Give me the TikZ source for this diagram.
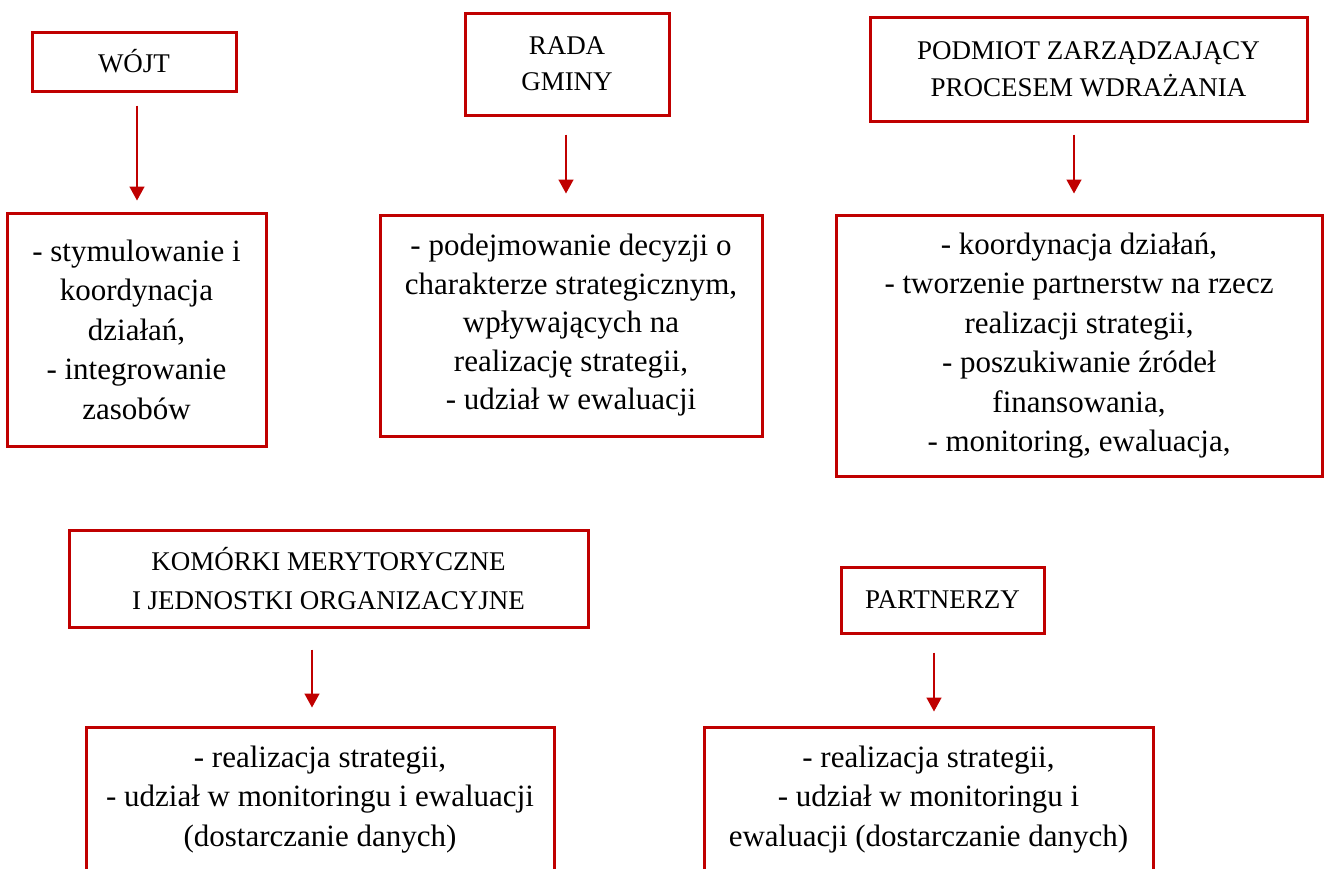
\documentclass[tikz,border=0pt]{standalone}
\usepackage{fontspec}
\setmainfont{Liberation Serif}
\usetikzlibrary{arrows.meta}
\definecolor{boxred}{HTML}{C00000}
\begin{document}
\begin{tikzpicture}[x=1pt,y=-1pt,
  box/.style={draw=boxred, line width=3pt, inner sep=0pt, align=center,
    font=\fontsize{31}{39.5}\selectfont, text=black},
  titlebox/.style={box, font=\fontsize{27}{37}\selectfont},
  arr/.style={draw=boxred, line width=1.5pt, -{Triangle[width=15pt,length=14pt]}}]
\useasboundingbox (0,0) rectangle (1326,868);
\clip (0,0) rectangle (1326,868);
\fill[white] (0,0) rectangle (1326,868);

\node[titlebox, minimum width=204pt, minimum height=59pt] (wojt) at (134,61.5) {WÓJT};
\node[box, minimum width=259pt, minimum height=233pt] (wojtd) at (136.5,329.5)
  {- stymulowanie i\\koordynacja\\działań,\\- integrowanie\\zasobów};

\node[titlebox, minimum width=204pt, minimum height=102pt, font=\fontsize{27}{36}\selectfont] (rada) at (567,64) {RADA\\GMINY};
\node[box, minimum width=382pt, minimum height=221pt, font=\fontsize{31}{38.5}\selectfont] (radad) at (571,325.5)
  {- podejmowanie decyzji o\\charakterze strategicznym,\\wpływających na\\realizację strategii,\\- udział w ewaluacji};

\node[titlebox, minimum width=437pt, minimum height=104pt] (pod) at (1088.5,69)
  {PODMIOT ZARZĄDZAJĄCY\\PROCESEM WDRAŻANIA};
\node[box, minimum width=486pt, minimum height=261pt] (podd) at (1079,345.5)
  {- koordynacja działań,\\- tworzenie partnerstw na rzecz\\realizacji strategii,\\- poszukiwanie źródeł\\finansowania,\\- monitoring, ewaluacja,};

\node[titlebox, minimum width=519pt, minimum height=97pt, font=\fontsize{27}{39}\selectfont] (kom) at (328.5,578.5)
  {KOMÓRKI MERYTORYCZNE\\I JEDNOSTKI ORGANIZACYJNE};
\node[box, minimum width=468pt, minimum height=145pt] (komd) at (320,799.5)
  {- realizacja strategii,\\- udział w monitoringu i ewaluacji\\(dostarczanie danych)};

\node[titlebox, minimum width=203pt, minimum height=66pt] (part) at (942.5,600) {PARTNERZY};
\node[box, minimum width=449pt, minimum height=145pt] (partd) at (928.5,799.5)
  {- realizacja strategii,\\- udział w monitoringu i\\ewaluacji (dostarczanie danych)};

\draw[arr, shorten <=13pt, shorten >=11pt] ([xshift=3pt]wojt.south) -- ([xshift=3pt]wojt.south |- wojtd.north);
\draw[arr, shorten <=18pt, shorten >=20pt] ([xshift=-1pt]rada.south) -- ([xshift=-1pt]rada.south |- radad.north);
\draw[arr, shorten <=12pt, shorten >=20pt] ([xshift=-14.5pt]pod.south) -- ([xshift=-14.5pt]pod.south |- podd.north);
\draw[arr, shorten <=21pt, shorten >=18pt] ([xshift=-16.5pt]kom.south) -- ([xshift=-16.5pt]kom.south |- komd.north);
\draw[arr, shorten <=18pt, shorten >=14pt] ([xshift=-8.5pt]part.south) -- ([xshift=-8.5pt]part.south |- partd.north);
\end{tikzpicture}
\end{document}
